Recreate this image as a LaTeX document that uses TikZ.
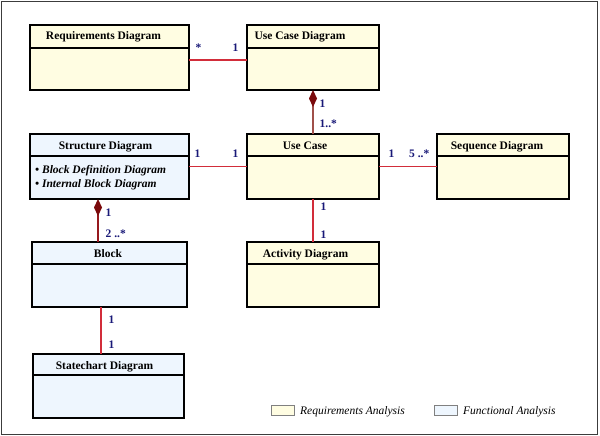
\documentclass[tikz,border=0pt]{standalone}
\usepackage{fontspec}
\setmainfont{Liberation Serif}
\usepackage{tikz}
\usetikzlibrary{arrows.meta, positioning}
\definecolor{reqfill}{RGB}{255,253,226}
\definecolor{funfill}{RGB}{238,246,254}
\definecolor{assocred}{RGB}{210,45,58}
\definecolor{compbrown}{RGB}{160,80,74}
\definecolor{compred}{RGB}{150,25,30}
\definecolor{diamred}{RGB}{122,10,12}
\definecolor{multblue}{RGB}{25,25,120}
\definecolor{framegray}{RGB}{60,60,60}

\begin{document}
\begin{tikzpicture}[x=1pt, y=-1pt,
  classbox/.style={draw=black, line width=1.8pt, inner sep=0pt, outer sep=0pt},
  divider/.style={black, line width=1.6pt},
  title/.style={font=\fontsize{11.5}{13}\selectfont\bfseries, inner sep=0pt},
  bulletline/.style={font=\fontsize{11.5}{13}\selectfont\bfseries\itshape, inner sep=0pt, anchor=base west},
  mult/.style={font=\fontsize{11.5}{13}\selectfont\bfseries, text=multblue, inner sep=0pt},
  assoc/.style={assocred, line width=1.4pt},
  comp/.style={line width=1.4pt, {Diamond[length=17pt 0, width=8pt 0, color=diamred, fill=diamred]}-},
  swatch/.style={draw=gray, fill=#1, line width=0.6pt, minimum width=23pt, minimum height=10pt, inner sep=0pt},
  legendtext/.style={font=\fontsize{11.5}{13}\selectfont\itshape, inner sep=0pt, anchor=base west}]

 \useasboundingbox (0,0) rectangle (600,436);
 \fill[white] (0,0) rectangle (600,436);
 \draw[framegray, line width=1.6pt] (1.5,1.5) rectangle (597.5,434.5);

 \foreach \n/\x/\y/\w/\h/\hd/\c/\t/\tx in {
    req/30/25/159/65/23/reqfill/Requirements Diagram/103.5,
    ucd/247/25/132/65/23/reqfill/Use Case Diagram/300,
    str/30/134/159/65/22/funfill/Structure Diagram/105.5,
    uc/247/134/132/65/22/reqfill/Use Case/305,
    seq/437/134/132/65/22/reqfill/Sequence Diagram/497,
    blk/32/242/155/65/22/funfill/Block/108,
    act/247/242/132/65/22/reqfill/Activity Diagram/305.5,
    stc/33/354/151/64/21/funfill/Statechart Diagram/104.5}{
    \node[classbox, fill=\c, minimum width=\w pt, minimum height=\h pt, anchor=north west] (\n) at (\x,\y) {};
    \draw[divider] ([yshift=-\hd pt]\n.north west) -- ([yshift=-\hd pt]\n.north east);
    \node[title, anchor=base] (\n-t) at (\tx,\y+15) {\t};
 }

 \node[bulletline] (str-a) at (35,173) {• Block Definition Diagram};
 \node[bulletline] (str-b) at (35,187) {• Internal Block Diagram};

 \draw[assoc] ([yshift=-2.5pt]req.east) -- node[mult, pos=0, anchor=base west, xshift=6pt, yshift=8pt] {*}
    node[mult, pos=1, anchor=base east, xshift=-8pt, yshift=8pt] {1} ([yshift=-2.5pt]ucd.west);
 \draw[comp, compbrown] (ucd.south) -- node[mult, pos=0, anchor=base west, xshift=6pt, yshift=-17pt] {1}
    node[mult, pos=1, anchor=base west, xshift=6pt, yshift=7pt] {1..*} (uc.north);
 \draw[assoc] (str) -- node[mult, pos=0, anchor=base west, xshift=5pt, yshift=9pt] {1}
    node[mult, pos=1, anchor=base east, xshift=-8pt, yshift=9pt] {1} (uc);
 \draw[assoc] (uc) -- node[mult, pos=0, anchor=base west, xshift=9pt, yshift=9pt] {1}
    node[mult, pos=1, anchor=base east, xshift=-7pt, yshift=9pt] {5 ..*} (seq);
 \draw[assoc] (uc) -- node[mult, pos=0, anchor=base west, xshift=7pt, yshift=-11pt] {1}
    node[mult, pos=1, anchor=base west, xshift=7pt, yshift=4pt] {1} (act);
 \draw[comp, compred] ([xshift=-11.5pt]str.south) -- node[mult, pos=0, anchor=base west, xshift=7pt, yshift=-17pt] {1}
    node[mult, pos=1, anchor=base west, xshift=7pt, yshift=5pt] {2 ..*} ([xshift=-11.5pt]blk.north);
 \draw[assoc] ([xshift=-8.5pt]blk.south) -- node[mult, pos=0, anchor=base west, xshift=7pt, yshift=-16pt] {1}
    node[mult, pos=1, anchor=base west, xshift=7pt, yshift=6pt] {1} ([xshift=-7.5pt]stc.north);

 \node[swatch=reqfill] (leg-req) at (282.5,410) {};
 \node[legendtext] (leg-req-t) at (300,414) {Requirements Analysis};
 \node[swatch=funfill] (leg-fun) at (446,410) {};
 \node[legendtext] (leg-fun-t) at (463,414) {Functional Analysis};

\end{tikzpicture}
\end{document}
